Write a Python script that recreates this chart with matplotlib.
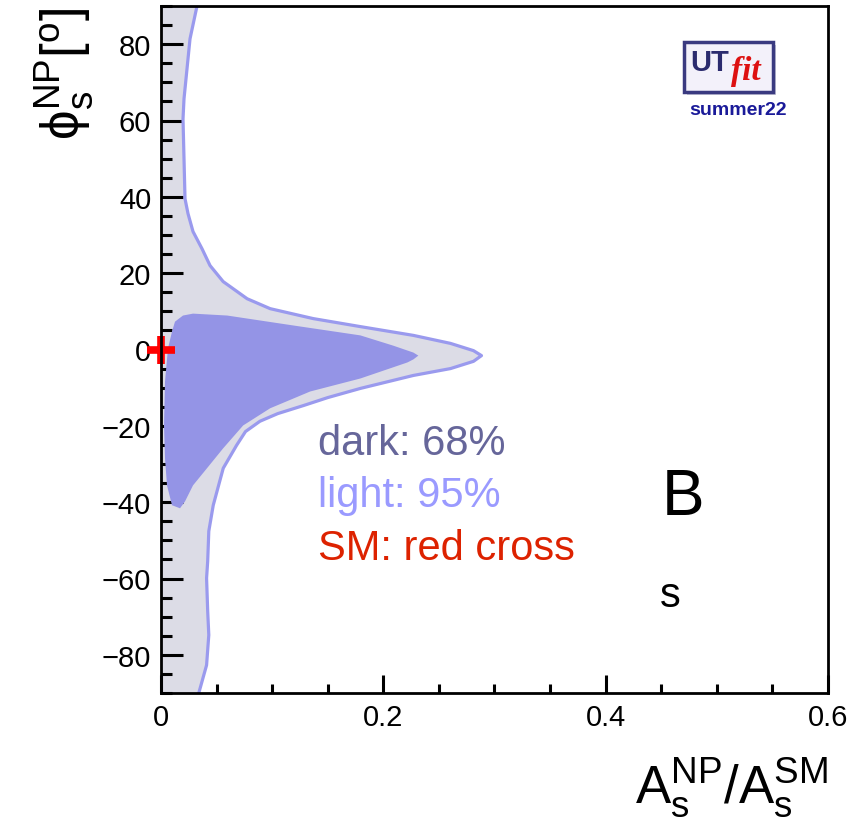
import matplotlib
matplotlib.use("Agg")
import matplotlib.pyplot as plt
from matplotlib.patches import Rectangle
import numpy as np

plt.rcParams['font.family'] = ['Liberation Sans', 'DejaVu Sans']
plt.rcParams['mathtext.fontset'] = 'custom'
plt.rcParams['mathtext.rm'] = 'Liberation Sans'
plt.rcParams['mathtext.it'] = 'Liberation Sans:italic'
plt.rcParams['mathtext.bf'] = 'Liberation Sans:bold'

# 95% region, right-hand boundary (A_NP/A_SM, phi_NP in degrees), top to bottom
outer_x = [0.0324, 0.0261, 0.0207, 0.0198, 0.0216, 0.0243, 0.0288, 0.0369, 0.0441,
           0.0559, 0.0775, 0.0982, 0.1369, 0.1793, 0.2270, 0.2604, 0.2811, 0.2883,
           0.2811, 0.2604, 0.2270, 0.1793, 0.1500, 0.1280, 0.1050, 0.0890, 0.0760,
           0.0680, 0.0560, 0.0470, 0.0430, 0.0420, 0.0410, 0.0420, 0.0430, 0.0410,
           0.0340]
outer_y = [90.0, 81.4, 65.7, 60.4, 39.5, 35.6, 30.9, 26.4, 22.0,
           17.8, 13.3, 10.7, 8.1, 6.0, 3.7, 1.6, -0.3, -1.6,
           -3.1, -5.0, -6.8, -10.2, -12.6, -14.7, -16.8, -18.8, -21.5,
           -25.1, -31.1, -40.8, -47.6, -55.5, -59.9, -68.5, -74.8, -82.7,
           -90.0]

# 68% region outline
inner_x = [0.0063, 0.0099, 0.0126, 0.0198, 0.0288, 0.0595, 0.1189, 0.1793, 0.2090,
           0.2270, 0.2315, 0.2270, 0.2216, 0.1793, 0.1342, 0.0982, 0.0739, 0.0559,
           0.0414, 0.0288, 0.0216, 0.0171, 0.0099, 0.0054, 0.0036, 0.0027, 0.0036]
inner_y = [0.3, 4.7, 7.3, 8.9, 9.4, 8.9, 6.3, 3.7, 1.0,
           -0.8, -1.6, -2.6, -3.4, -7.6, -11.0, -15.4, -19.9, -25.9,
           -31.1, -35.6, -39.8, -41.6, -40.8, -35.6, -28.5, -19.9, -8.4]

sm_point = (0.0, 0.0)

xticks = [0, 0.2, 0.4, 0.6]
xticklabels = ['0', '0.2', '0.4', '0.6']
yticks = [-80, -60, -40, -20, 0, 20, 40, 60, 80]

legend_lines = ['dark: 68%', 'light: 95%', 'SM: red cross']
legend_colors = ['#66669a', '#9a9aff', '#dd2200']

W, H = 854, 820
fig = plt.figure(figsize=(W / 100, H / 100), dpi=100)
ax = fig.add_axes([161 / W, 1 - 694 / H, 667 / W, 687 / H])

# light region: bounded on the left by the axis
ax.fill([0.0] + outer_x + [0.0], [90.0] + outer_y + [-90.0],
        color='#dcdce6', lw=0, zorder=1)
ax.plot(outer_x, outer_y, color='#9a9aee', lw=2.3, zorder=2,
        solid_joinstyle='round')
ax.fill(inner_x, inner_y, color='#9494e6', lw=0, zorder=3)

ax.plot(*sm_point, marker='+', color='#ff0000', ms=20, mew=5.5,
        clip_on=False, zorder=6)

ax.set_xlim(0, 0.6)
ax.set_ylim(-90, 90)
ax.set_xticks(xticks)
ax.set_xticklabels(xticklabels)
ax.set_yticks(yticks)
ax.set_xticks(np.arange(0, 0.6001, 0.05), minor=True)
ax.set_yticks(np.arange(-90, 90.01, 5), minor=True)
ax.tick_params(axis='both', which='both', direction='in', width=2.2,
               top=False, right=False, labelsize=21, pad=7)
ax.tick_params(axis='y', which='major', length=16)
ax.tick_params(axis='y', which='minor', length=8)
ax.tick_params(axis='x', which='major', length=13)
ax.tick_params(axis='x', which='minor', length=6.5)
for sp in ax.spines.values():
    sp.set_linewidth(2)
    sp.set_zorder(7)

# legend-like texts
for i, (txt, col) in enumerate(zip(legend_lines, legend_colors)):
    ax.text(0.235, 0.348 - i * 0.0765, txt, color=col, fontsize=30,
            transform=ax.transAxes, va='baseline', ha='left')

fig.text(662 / W, 1 - 515 / H, 'B', fontsize=46, va='baseline', ha='left')
fig.text(660 / W, 1 - 607 / H, 's', fontsize=30, va='baseline', ha='left')

# axis titles
fig.text(828 / W, 1 - 803 / H, r'$\mathregular{A_{s}^{NP}/A_{s}^{SM}}$',
         fontsize=38, ha='right', va='baseline')
fig.text(65 / W, 1 - 7 / H, r'$\mathregular{\phi_{s}^{NP}[^{o}]}$',
         fontsize=38, rotation=90, ha='center', va='top')

# UTfit logo
fig.patches.append(Rectangle((687 / W, 1 - 96 / H), 89 / W, 50 / H,
                             transform=fig.transFigure, facecolor='#c8c8d8',
                             edgecolor='none', zorder=0))
fig.patches.append(Rectangle((684 / W, 1 - 93 / H), 89 / W, 50 / H,
                             transform=fig.transFigure, facecolor='#f3f1fa',
                             edgecolor='#3a3a80', lw=2.5, zorder=1))
fig.text(690 / W, 1 - 71 / H, 'UT', fontsize=21, fontweight='bold',
         color='#2b2b6e', ha='left', va='baseline')
fig.text(731 / W, 1 - 80 / H, 'fit', fontsize=24, fontstyle='italic',
         fontweight='bold', family='Liberation Serif', color='#dd1111',
         ha='left', va='baseline')
fig.text(738 / W, 1 - 115 / H, 'summer22', fontsize=14, fontweight='bold',
         color='#1a1a99', ha='center', va='baseline')

fig.savefig('out.png', dpi=100)
